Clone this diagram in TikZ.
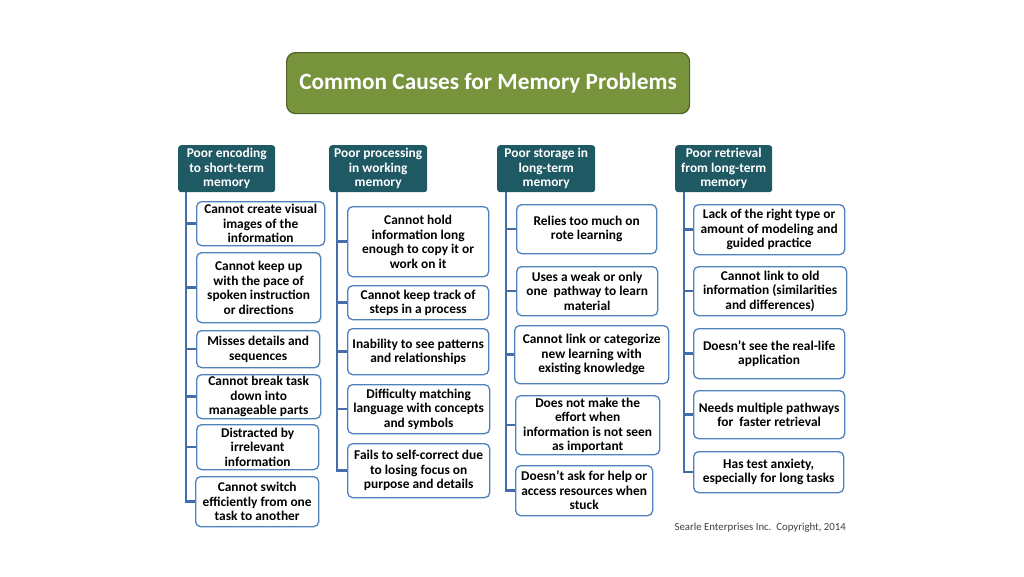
\documentclass[tikz,border=0pt]{standalone}
\usepackage{fontspec}
\setmainfont{Carlito}
\usetikzlibrary{positioning}

\definecolor{titlegreen}{RGB}{119,147,60}
\definecolor{titleline}{RGB}{79,98,40}
\definecolor{headteal}{RGB}{31,89,99}
\definecolor{itemblue}{RGB}{79,129,189}
\definecolor{trunkblue}{RGB}{68,110,170}

\tikzset{
  titlebox/.style={draw=titleline, fill=titlegreen, rounded corners=9pt, line width=1.2pt,
    text=white, font=\fontsize{23.3}{27}\selectfont\bfseries, anchor=north west},
  headbox/.style={fill=headteal, rounded corners=3pt, text=white, align=center,
    font=\fontsize{13.4}{14.5}\selectfont\bfseries, anchor=north west,
    minimum height=47, inner sep=1pt},
  itembox/.style={draw=itemblue, line width=1.3pt, rounded corners=5pt, fill=white,
    align=center, font=\fontsize{13.4}{14.5}\selectfont\bfseries, anchor=north west,
    inner sep=1pt},
  trunk/.style={draw=trunkblue, line width=2.6pt},
}

\begin{document}
\begin{tikzpicture}[x=1pt, y=-1pt]
  \useasboundingbox[fill=white] (0,0) rectangle (1024,576);

  % title
  \node[titlebox, minimum width=403, minimum height=61] (title) at (286,52)
    {Common Causes for Memory Problems};

  % headers
  \node[headbox, minimum width=97] (enc) at (178,145) {Poor encoding\\to short-term\\memory};
  \node[headbox, minimum width=98] (proc) at (329,145) {Poor processing\\in working\\memory};
  \node[headbox, minimum width=98] (stor) at (497,145) {Poor storage in\\long-term\\memory};
  \node[headbox, minimum width=97] (retr) at (675,145) {Poor retrieval\\from long-term\\memory};

  % encoding
  \node[itembox, minimum width=128, minimum height=44] (enc1) at (196,201) {Cannot create visual\\images of the\\information};
  \node[itembox, minimum width=124, minimum height=70] (enc2) at (196,252) {Cannot keep up\\with the pace of\\spoken instruction\\or directions};
  \node[itembox, minimum width=123, minimum height=37] (enc3) at (196,330) {Misses details and\\sequences};
  \node[itembox, minimum width=124, minimum height=44] (enc4) at (196,374) {Cannot break task\\down into\\manageable parts};
  \node[itembox, minimum width=122, minimum height=45] (enc5) at (196,424) {Distracted by\\irrelevant\\information};
  \node[itembox, minimum width=123, minimum height=50] (enc6) at (195,476) {Cannot switch\\efficiently from one\\task to another};

  % processing
  \node[itembox, minimum width=141, minimum height=70] (proc1) at (347,206) {Cannot hold\\information long\\enough to copy it or\\work on it};
  \node[itembox, minimum width=141, minimum height=34] (proc2) at (347,285) {Cannot keep track of\\steps in a process};
  \node[itembox, minimum width=141, minimum height=46] (proc3) at (347,328) {Inability to see patterns\\and relationships};
  \node[itembox, minimum width=142, minimum height=49] (proc4) at (347,384) {Difficulty matching\\language with concepts\\and symbols};
  \node[itembox, minimum width=142, minimum height=54] (proc5) at (347,443) {Fails to self-correct due\\to losing focus on\\purpose and details};

  % storage
  \node[itembox, minimum width=140, minimum height=49] (stor1) at (516,204) {Relies too much on\\rote learning};
  \node[itembox, minimum width=141, minimum height=49] (stor2) at (516,266) {Uses a weak or only\\one~ pathway to learn\\material};
  \node[itembox, minimum width=154, minimum height=58] (stor3) at (514,325) {Cannot link or categorize\\new learning with\\existing knowledge};
  \node[itembox, minimum width=144, minimum height=59] (stor4) at (515,395) {Does not make the\\effort when\\information is not seen\\as important};
  \node[itembox, minimum width=137, minimum height=50] (stor5) at (515,465) {Doesn’t ask for help or\\access resources when\\stuck};

  % retrieval
  \node[itembox, minimum width=151, minimum height=50] (retr1) at (693,204) {Lack of the right type or\\amount of modeling and\\guided practice};
  \node[itembox, minimum width=153, minimum height=49] (retr2) at (693,266) {Cannot link to old\\information (similarities\\and differences)};
  \node[itembox, minimum width=151, minimum height=50] (retr3) at (693,328) {Doesn’t see the real-life\\application};
  \node[itembox, minimum width=151, minimum height=48] (retr4) at (693,390) {Needs multiple pathways\\for~ faster retrieval};
  \node[itembox, minimum width=150, minimum height=41] (retr5) at (693,451) {Has test anxiety,\\especially for long tasks};

  % trunks
  \coordinate (encline) at (186,192);
  \coordinate (procline) at (337,192);
  \coordinate (storline) at (506,192);
  \coordinate (retrline) at (684,192);
  \draw[trunk] (encline) |- (enc6.west);
  \draw[trunk] (procline) |- (proc5.west);
  \draw[trunk] (storline) |- (stor5.west);
  \draw[trunk] (retrline) |- (retr5.west);
  \foreach \n in {1,...,5}
    \draw[trunk] (enc\n.west) -- (enc\n.west -| encline);
  \foreach \c in {proc,stor,retr}
    \foreach \n in {1,...,4}
      \draw[trunk] (\c\n.west) -- (\c\n.west -| \c line);

  \node[anchor=west, font=\fontsize{10.8}{13}\selectfont, text=black!75] (copy) at (671,528)
    {Searle Enterprises Inc.\ \ Copyright, 2014};
\end{tikzpicture}
\end{document}
